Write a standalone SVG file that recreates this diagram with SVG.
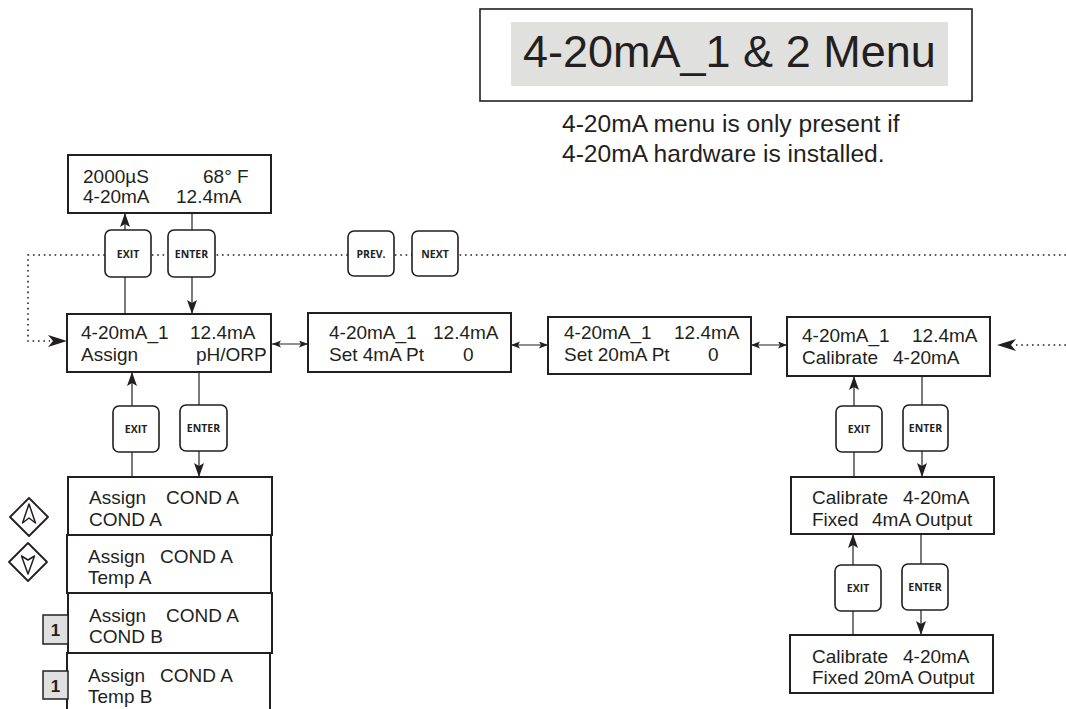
<svg xmlns="http://www.w3.org/2000/svg" width="1066" height="709" viewBox="0 0 1066 709">
<style>
.box{fill:#fff;stroke:#231f20;stroke-width:2}
.t{font-family:"Liberation Sans",Arial,sans-serif;font-size:19px;fill:#231f20}
.btn{fill:#fff;stroke:#231f20;stroke-width:1.6}
.bt{font-family:"Open Sans","DejaVu Sans",sans-serif;font-weight:bold;font-size:10.5px;fill:#231f20;text-anchor:middle}
.ln{stroke:#231f20;stroke-width:1.2;fill:none}
.dot{stroke:#231f20;stroke-width:1.6;fill:none;stroke-dasharray:1.6 3.8}
.one{fill:#e0e0e0;stroke:#231f20;stroke-width:1.5}
.ot{font-family:"Liberation Sans",Arial,sans-serif;font-weight:bold;font-size:17px;fill:#231f20;text-anchor:middle}
.dia{fill:#fff;stroke:#231f20;stroke-width:1.8;stroke-linejoin:round}
</style>
<defs>
<marker id="ah" markerWidth="15" markerHeight="11" refX="14" refY="5" orient="auto" markerUnits="userSpaceOnUse">
<path d="M0,0 L14,5 L0,10 L3,5 Z" fill="#231f20"/>
</marker>
<marker id="as" markerWidth="10" markerHeight="8" refX="9" refY="3.5" orient="auto-start-reverse" markerUnits="userSpaceOnUse">
<path d="M0,0 L9,3.5 L0,7 L2,3.5 Z" fill="#231f20"/>
</marker>
</defs>

<g id="title">
<rect x="480" y="9" width="492" height="92" fill="#fff" stroke="#231f20" stroke-width="1.6"/>
<rect x="511" y="22" width="437" height="64" fill="#e0e0de"/>
<text x="523" y="67" style="font-family:'Liberation Sans',Arial,sans-serif;font-size:45px;fill:#231f20">4-20mA_1 &amp; 2 Menu</text>
</g>
<g id="note" class="t" style="font-size:24.6px">
<text x="562" y="132">4-20mA menu is only present if</text>
<text x="562" y="162">4-20mA hardware is installed.</text>
</g>

<g id="connectors">
<polyline class="dot" points="1066,255 28,255 28,341 50,341"/>
<path d="M48,335 L67,341 L48,347 L53,341 Z" fill="#231f20"/>
<line class="dot" x1="1066" y1="345" x2="1016" y2="345"/>
<path d="M1016,339 L997,345 L1016,351 L1011,345 Z" fill="#231f20"/>
<line class="ln" x1="125" y1="230" x2="125" y2="213" marker-end="url(#ah)"/>
<line class="ln" x1="125" y1="277" x2="125" y2="314"/>
<line class="ln" x1="192" y1="213" x2="192" y2="230"/>
<line class="ln" x1="192" y1="277" x2="192" y2="314" marker-end="url(#ah)"/>
<line class="ln" x1="132" y1="406" x2="132" y2="372" marker-end="url(#ah)"/>
<line class="ln" x1="132" y1="452" x2="132" y2="477"/>
<line class="ln" x1="199" y1="372" x2="199" y2="405"/>
<line class="ln" x1="199" y1="451" x2="199" y2="477" marker-end="url(#ah)"/>
<line class="ln" x1="854" y1="406" x2="854" y2="376" marker-end="url(#ah)"/>
<line class="ln" x1="854" y1="452" x2="854" y2="477"/>
<line class="ln" x1="922" y1="376" x2="922" y2="405"/>
<line class="ln" x1="922" y1="451" x2="922" y2="477" marker-end="url(#ah)"/>
<line class="ln" x1="853" y1="565" x2="853" y2="534" marker-end="url(#ah)"/>
<line class="ln" x1="853" y1="611" x2="853" y2="635"/>
<line class="ln" x1="921" y1="534" x2="921" y2="564"/>
<line class="ln" x1="921" y1="610" x2="921" y2="635" marker-end="url(#ah)"/>
<line class="ln" x1="272" y1="344" x2="308" y2="344" marker-start="url(#as)" marker-end="url(#as)"/>
<line class="ln" x1="511" y1="345" x2="548" y2="345" marker-start="url(#as)" marker-end="url(#as)"/>
<line class="ln" x1="751" y1="345" x2="787" y2="345" marker-start="url(#as)" marker-end="url(#as)"/>
</g>

<g id="btn-exit-1"><rect class="btn" x="105" y="230" width="46" height="47" rx="6"/><text class="bt" x="128" y="257.5">EXIT</text></g>
<g id="btn-enter-1"><rect class="btn" x="168" y="230" width="47" height="47" rx="6"/><text class="bt" x="191.5" y="257.5">ENTER</text></g>
<g id="btn-prev"><rect class="btn" x="348" y="231" width="46" height="45" rx="6"/><text class="bt" x="371" y="257.5">PREV.</text></g>
<g id="btn-next"><rect class="btn" x="412" y="231" width="46" height="45" rx="6"/><text class="bt" x="435" y="257.5">NEXT</text></g>
<g id="btn-exit-2"><rect class="btn" x="113" y="406" width="46" height="46" rx="6"/><text class="bt" x="136" y="432.5">EXIT</text></g>
<g id="btn-enter-2"><rect class="btn" x="180" y="405" width="47" height="46" rx="6"/><text class="bt" x="203.5" y="431.5">ENTER</text></g>
<g id="btn-exit-3"><rect class="btn" x="836" y="406" width="46" height="46" rx="6"/><text class="bt" x="859" y="432.5">EXIT</text></g>
<g id="btn-enter-3"><rect class="btn" x="903" y="405" width="45" height="46" rx="6"/><text class="bt" x="925.5" y="431.5">ENTER</text></g>
<g id="btn-exit-4"><rect class="btn" x="835" y="565" width="46" height="46" rx="6"/><text class="bt" x="858" y="591.5">EXIT</text></g>
<g id="btn-enter-4"><rect class="btn" x="902" y="564" width="46" height="46" rx="6"/><text class="bt" x="925" y="590.5">ENTER</text></g>

<g id="main-display" class="t">
<rect class="box" x="68" y="155" width="203" height="58"/>
<text x="83" y="183">2000µS</text><text x="203" y="183">68° F</text>
<text x="83" y="203">4-20mA</text><text x="176" y="203">12.4mA</text>
</g>
<g id="assign" class="t">
<rect class="box" x="67" y="314" width="204" height="58"/>
<text x="81" y="339">4-20mA_1</text><text x="190" y="339">12.4mA</text>
<text x="81" y="361">Assign</text><text x="196" y="361">pH/ORP</text>
</g>
<g id="set4" class="t">
<rect class="box" x="308" y="313" width="203" height="59"/>
<text x="329" y="339">4-20mA_1</text><text x="433" y="339">12.4mA</text>
<text x="329" y="361">Set 4mA Pt</text><text x="463" y="361">0</text>
</g>
<g id="set20" class="t">
<rect class="box" x="548" y="317" width="203" height="57"/>
<text x="564" y="339">4-20mA_1</text><text x="674" y="339">12.4mA</text>
<text x="564" y="361">Set 20mA Pt</text><text x="708" y="361">0</text>
</g>
<g id="calibrate" class="t">
<rect class="box" x="787" y="317" width="203" height="59"/>
<text x="802" y="342">4-20mA_1</text><text x="912" y="342">12.4mA</text>
<text x="802" y="364">Calibrate</text><text x="893" y="364">4-20mA</text>
</g>
<g id="fixed4" class="t">
<rect class="box" x="791" y="477" width="203" height="57"/>
<text x="812" y="504">Calibrate</text><text x="903" y="504">4-20mA</text>
<text x="812" y="526">Fixed</text><text x="872" y="526">4mA Output</text>
</g>
<g id="fixed20" class="t">
<rect class="box" x="790" y="635" width="203" height="58"/>
<text x="812" y="663">Calibrate</text><text x="903" y="663">4-20mA</text>
<text x="812" y="684">Fixed 20mA Output</text>
</g>

<g id="opt-condA" class="t">
<rect class="box" x="68" y="477" width="204" height="58"/>
<text x="89" y="504">Assign</text><text x="166" y="504">COND A</text>
<text x="89" y="526">COND A</text>
</g>
<g id="opt-tempA" class="t">
<rect class="box" x="67" y="535" width="204" height="58"/>
<text x="88" y="563">Assign</text><text x="160" y="563">COND A</text>
<text x="88" y="584">Temp A</text>
</g>
<g id="opt-condB" class="t">
<rect class="box" x="68" y="593" width="204" height="60"/>
<text x="89" y="622">Assign</text><text x="166" y="622">COND A</text>
<text x="89" y="643">COND B</text>
</g>
<g id="opt-tempB" class="t">
<rect class="box" x="67" y="653" width="203" height="62"/>
<text x="88" y="682">Assign</text><text x="160" y="682">COND A</text>
<text x="88" y="703">Temp B</text>
</g>

<g id="key-up">
<path class="dia" d="M29,498 L48,517 L29,536 L10,517 Z"/>
<path d="M29,504 L22.5,523 L29,518 L35.5,523 Z" fill="none" stroke="#231f20" stroke-width="1.5" stroke-linejoin="round"/>
</g>
<g id="key-down">
<path class="dia" d="M28,543 L47,562 L28,581 L9,562 Z"/>
<path d="M28,574 L21.5,556 L28,560 L34.5,556 Z" fill="none" stroke="#231f20" stroke-width="1.5" stroke-linejoin="round"/>
</g>
<g id="key-1a"><rect class="one" x="43" y="615" width="25" height="29"/><text class="ot" x="55.5" y="636">1</text></g>
<g id="key-1b"><rect class="one" x="43" y="671" width="25" height="28"/><text class="ot" x="55.5" y="692">1</text></g>
</svg>
